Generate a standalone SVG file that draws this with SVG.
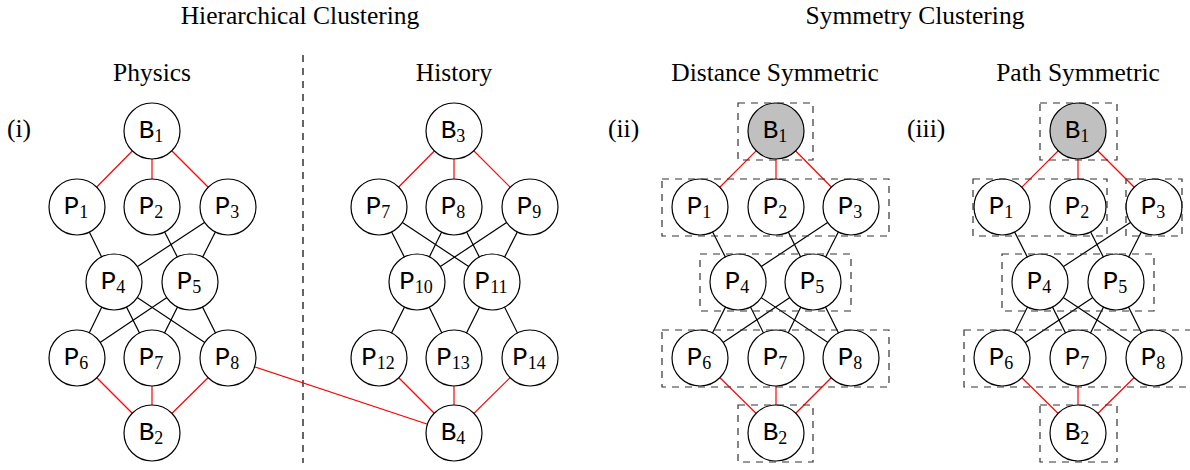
<svg xmlns="http://www.w3.org/2000/svg" width="1190" height="470" viewBox="0 0 1190 470">
  <style>
    .title { font-family: "Liberation Serif", "Times New Roman", serif; font-size: 25.5px; fill: #000; }
    .tag { font-family: "Liberation Serif", "Times New Roman", serif; font-size: 25.5px; fill: #000; }
    .node circle { fill: #fff; stroke: #000; stroke-width: 1.2; }
    .node.src circle { fill: #c0c0c0; }
    .lbl { font-family: "Liberation Mono", "Courier New", monospace; font-size: 26px; fill: #000; text-anchor: middle; }
    .sub { font-family: "Liberation Serif", "Times New Roman", serif; font-size: 18px; }
    .e { stroke: #000; stroke-width: 1.2; }
    .r { stroke: #ff0000; stroke-width: 1.2; }
    .sep { stroke: #000; stroke-width: 1.2; stroke-dasharray: 7 6; }
    .box { fill: none; stroke: #333; stroke-width: 1.2; stroke-dasharray: 7 6; }
  </style>

  <!-- headings -->
  <g id="headings">
    <text class="title" x="300" y="24" text-anchor="middle">Hierarchical Clustering</text>
    <text class="title" x="915" y="24" text-anchor="middle">Symmetry Clustering</text>
    <text class="title" x="152" y="81" text-anchor="middle">Physics</text>
    <text class="title" x="454" y="81" text-anchor="middle">History</text>
    <text class="title" x="775" y="81" text-anchor="middle">Distance Symmetric</text>
    <text class="title" x="1078" y="81" text-anchor="middle">Path Symmetric</text>
    <text class="tag" x="7" y="137">(i)</text>
    <text class="tag" x="608" y="137">(ii)</text>
    <text class="tag" x="907" y="137">(iii)</text>
  </g>

  <!-- divider between the two hierarchical clusters -->
  <line class="sep" x1="303" y1="55" x2="303" y2="463"/>

  <!-- connectors -->
  <g id="connectors">
    <!-- (i) physics -->
    <line class="r" x1="152" y1="131" x2="77" y2="207"/>
    <line class="r" x1="152" y1="131" x2="152" y2="207"/>
    <line class="r" x1="152" y1="131" x2="228" y2="207"/>
    <line class="e" x1="77" y1="207" x2="114" y2="282"/>
    <line class="e" x1="152" y1="207" x2="190" y2="282"/>
    <line class="e" x1="228" y1="207" x2="114" y2="282"/>
    <line class="e" x1="228" y1="207" x2="190" y2="282"/>
    <line class="e" x1="114" y1="282" x2="77" y2="358"/>
    <line class="e" x1="114" y1="282" x2="152" y2="358"/>
    <line class="e" x1="114" y1="282" x2="228" y2="358"/>
    <line class="e" x1="190" y1="282" x2="77" y2="358"/>
    <line class="e" x1="190" y1="282" x2="152" y2="358"/>
    <line class="e" x1="190" y1="282" x2="228" y2="358"/>
    <line class="r" x1="77" y1="358" x2="152" y2="433"/>
    <line class="r" x1="152" y1="358" x2="152" y2="433"/>
    <line class="r" x1="228" y1="358" x2="152" y2="433"/>
    <line class="r" x1="228" y1="358" x2="454" y2="433"/>
    <!-- (i) history -->
    <line class="r" x1="454" y1="131" x2="379" y2="207"/>
    <line class="r" x1="454" y1="131" x2="454" y2="207"/>
    <line class="r" x1="454" y1="131" x2="530" y2="207"/>
    <line class="e" x1="379" y1="207" x2="417" y2="282"/>
    <line class="e" x1="379" y1="207" x2="492" y2="282"/>
    <line class="e" x1="454" y1="207" x2="417" y2="282"/>
    <line class="e" x1="454" y1="207" x2="492" y2="282"/>
    <line class="e" x1="530" y1="207" x2="417" y2="282"/>
    <line class="e" x1="530" y1="207" x2="492" y2="282"/>
    <line class="e" x1="417" y1="282" x2="379" y2="358"/>
    <line class="e" x1="417" y1="282" x2="454" y2="358"/>
    <line class="e" x1="492" y1="282" x2="454" y2="358"/>
    <line class="e" x1="492" y1="282" x2="530" y2="358"/>
    <line class="r" x1="379" y1="358" x2="454" y2="433"/>
    <line class="r" x1="454" y1="358" x2="454" y2="433"/>
    <line class="r" x1="530" y1="358" x2="454" y2="433"/>
    <!-- (ii) distance symmetric -->
    <line class="r" x1="776" y1="131" x2="700" y2="207"/>
    <line class="r" x1="776" y1="131" x2="776" y2="207"/>
    <line class="r" x1="776" y1="131" x2="851" y2="207"/>
    <line class="e" x1="700" y1="207" x2="738" y2="282"/>
    <line class="e" x1="776" y1="207" x2="813" y2="282"/>
    <line class="e" x1="851" y1="207" x2="738" y2="282"/>
    <line class="e" x1="851" y1="207" x2="813" y2="282"/>
    <line class="e" x1="738" y1="282" x2="700" y2="358"/>
    <line class="e" x1="738" y1="282" x2="776" y2="358"/>
    <line class="e" x1="738" y1="282" x2="851" y2="358"/>
    <line class="e" x1="813" y1="282" x2="700" y2="358"/>
    <line class="e" x1="813" y1="282" x2="776" y2="358"/>
    <line class="e" x1="813" y1="282" x2="851" y2="358"/>
    <line class="r" x1="700" y1="358" x2="776" y2="433"/>
    <line class="r" x1="776" y1="358" x2="776" y2="433"/>
    <line class="r" x1="851" y1="358" x2="776" y2="433"/>
    <!-- (iii) path symmetric -->
    <line class="r" x1="1078" y1="131" x2="1002" y2="207"/>
    <line class="r" x1="1078" y1="131" x2="1078" y2="207"/>
    <line class="r" x1="1078" y1="131" x2="1154" y2="207"/>
    <line class="e" x1="1002" y1="207" x2="1040" y2="282"/>
    <line class="e" x1="1078" y1="207" x2="1116" y2="282"/>
    <line class="e" x1="1154" y1="207" x2="1040" y2="282"/>
    <line class="e" x1="1154" y1="207" x2="1116" y2="282"/>
    <line class="e" x1="1040" y1="282" x2="1002" y2="358"/>
    <line class="e" x1="1040" y1="282" x2="1078" y2="358"/>
    <line class="e" x1="1040" y1="282" x2="1154" y2="358"/>
    <line class="e" x1="1116" y1="282" x2="1002" y2="358"/>
    <line class="e" x1="1116" y1="282" x2="1078" y2="358"/>
    <line class="e" x1="1116" y1="282" x2="1154" y2="358"/>
    <line class="r" x1="1002" y1="358" x2="1078" y2="433"/>
    <line class="r" x1="1078" y1="358" x2="1078" y2="433"/>
    <line class="r" x1="1154" y1="358" x2="1078" y2="433"/>
  </g>

  <!-- (i) physics nodes -->
  <g id="phys-B1" class="node"><circle cx="152" cy="131" r="28"/><text class="lbl" x="151" y="138">B<tspan class="sub" dy="4">1</tspan></text></g>
  <g id="phys-P1" class="node"><circle cx="77" cy="207" r="28"/><text class="lbl" x="76" y="214">P<tspan class="sub" dy="4">1</tspan></text></g>
  <g id="phys-P2" class="node"><circle cx="152" cy="207" r="28"/><text class="lbl" x="151" y="214">P<tspan class="sub" dy="4">2</tspan></text></g>
  <g id="phys-P3" class="node"><circle cx="228" cy="207" r="28"/><text class="lbl" x="227" y="214">P<tspan class="sub" dy="4">3</tspan></text></g>
  <g id="phys-P4" class="node"><circle cx="114" cy="282" r="28"/><text class="lbl" x="113" y="289">P<tspan class="sub" dy="4">4</tspan></text></g>
  <g id="phys-P5" class="node"><circle cx="190" cy="282" r="28"/><text class="lbl" x="189" y="289">P<tspan class="sub" dy="4">5</tspan></text></g>
  <g id="phys-P6" class="node"><circle cx="77" cy="358" r="28"/><text class="lbl" x="76" y="365">P<tspan class="sub" dy="4">6</tspan></text></g>
  <g id="phys-P7" class="node"><circle cx="152" cy="358" r="28"/><text class="lbl" x="151" y="365">P<tspan class="sub" dy="4">7</tspan></text></g>
  <g id="phys-P8" class="node"><circle cx="228" cy="358" r="28"/><text class="lbl" x="227" y="365">P<tspan class="sub" dy="4">8</tspan></text></g>
  <g id="phys-B2" class="node"><circle cx="152" cy="433" r="28"/><text class="lbl" x="151" y="440">B<tspan class="sub" dy="4">2</tspan></text></g>

  <!-- (i) history nodes -->
  <g id="hist-B3" class="node"><circle cx="454" cy="131" r="28"/><text class="lbl" x="453" y="138">B<tspan class="sub" dy="4">3</tspan></text></g>
  <g id="hist-P7" class="node"><circle cx="379" cy="207" r="28"/><text class="lbl" x="378" y="214">P<tspan class="sub" dy="4">7</tspan></text></g>
  <g id="hist-P8" class="node"><circle cx="454" cy="207" r="28"/><text class="lbl" x="453" y="214">P<tspan class="sub" dy="4">8</tspan></text></g>
  <g id="hist-P9" class="node"><circle cx="530" cy="207" r="28"/><text class="lbl" x="529" y="214">P<tspan class="sub" dy="4">9</tspan></text></g>
  <g id="hist-P10" class="node"><circle cx="417" cy="282" r="28"/><text class="lbl" x="416" y="289">P<tspan class="sub" dy="4">10</tspan></text></g>
  <g id="hist-P11" class="node"><circle cx="492" cy="282" r="28"/><text class="lbl" x="491" y="289">P<tspan class="sub" dy="4">11</tspan></text></g>
  <g id="hist-P12" class="node"><circle cx="379" cy="358" r="28"/><text class="lbl" x="378" y="365">P<tspan class="sub" dy="4">12</tspan></text></g>
  <g id="hist-P13" class="node"><circle cx="454" cy="358" r="28"/><text class="lbl" x="453" y="365">P<tspan class="sub" dy="4">13</tspan></text></g>
  <g id="hist-P14" class="node"><circle cx="530" cy="358" r="28"/><text class="lbl" x="529" y="365">P<tspan class="sub" dy="4">14</tspan></text></g>
  <g id="hist-B4" class="node"><circle cx="454" cy="433" r="28"/><text class="lbl" x="453" y="440">B<tspan class="sub" dy="4">4</tspan></text></g>

  <!-- (ii) distance symmetric nodes -->
  <g id="dist-B1" class="node src"><circle cx="776" cy="131" r="28"/><text class="lbl" x="775" y="138">B<tspan class="sub" dy="4">1</tspan></text></g>
  <g id="dist-P1" class="node"><circle cx="700" cy="207" r="28"/><text class="lbl" x="699" y="214">P<tspan class="sub" dy="4">1</tspan></text></g>
  <g id="dist-P2" class="node"><circle cx="776" cy="207" r="28"/><text class="lbl" x="775" y="214">P<tspan class="sub" dy="4">2</tspan></text></g>
  <g id="dist-P3" class="node"><circle cx="851" cy="207" r="28"/><text class="lbl" x="850" y="214">P<tspan class="sub" dy="4">3</tspan></text></g>
  <g id="dist-P4" class="node"><circle cx="738" cy="282" r="28"/><text class="lbl" x="737" y="289">P<tspan class="sub" dy="4">4</tspan></text></g>
  <g id="dist-P5" class="node"><circle cx="813" cy="282" r="28"/><text class="lbl" x="812" y="289">P<tspan class="sub" dy="4">5</tspan></text></g>
  <g id="dist-P6" class="node"><circle cx="700" cy="358" r="28"/><text class="lbl" x="699" y="365">P<tspan class="sub" dy="4">6</tspan></text></g>
  <g id="dist-P7" class="node"><circle cx="776" cy="358" r="28"/><text class="lbl" x="775" y="365">P<tspan class="sub" dy="4">7</tspan></text></g>
  <g id="dist-P8" class="node"><circle cx="851" cy="358" r="28"/><text class="lbl" x="850" y="365">P<tspan class="sub" dy="4">8</tspan></text></g>
  <g id="dist-B2" class="node"><circle cx="776" cy="433" r="28"/><text class="lbl" x="775" y="440">B<tspan class="sub" dy="4">2</tspan></text></g>

  <!-- (ii) distance classes -->
  <g id="dist-classes">
    <rect class="box" x="738" y="103" width="75" height="57"/>
    <rect class="box" x="662" y="179" width="227" height="57"/>
    <rect class="box" x="700" y="254" width="151" height="57"/>
    <rect class="box" x="662" y="330" width="227" height="57"/>
    <rect class="box" x="738" y="405" width="75" height="57"/>
  </g>

  <!-- (iii) path symmetric nodes -->
  <g id="path-B1" class="node src"><circle cx="1078" cy="131" r="28"/><text class="lbl" x="1077" y="138">B<tspan class="sub" dy="4">1</tspan></text></g>
  <g id="path-P1" class="node"><circle cx="1002" cy="207" r="28"/><text class="lbl" x="1001" y="214">P<tspan class="sub" dy="4">1</tspan></text></g>
  <g id="path-P2" class="node"><circle cx="1078" cy="207" r="28"/><text class="lbl" x="1077" y="214">P<tspan class="sub" dy="4">2</tspan></text></g>
  <g id="path-P3" class="node"><circle cx="1154" cy="207" r="28"/><text class="lbl" x="1153" y="214">P<tspan class="sub" dy="4">3</tspan></text></g>
  <g id="path-P4" class="node"><circle cx="1040" cy="282" r="28"/><text class="lbl" x="1039" y="289">P<tspan class="sub" dy="4">4</tspan></text></g>
  <g id="path-P5" class="node"><circle cx="1116" cy="282" r="28"/><text class="lbl" x="1115" y="289">P<tspan class="sub" dy="4">5</tspan></text></g>
  <g id="path-P6" class="node"><circle cx="1002" cy="358" r="28"/><text class="lbl" x="1001" y="365">P<tspan class="sub" dy="4">6</tspan></text></g>
  <g id="path-P7" class="node"><circle cx="1078" cy="358" r="28"/><text class="lbl" x="1077" y="365">P<tspan class="sub" dy="4">7</tspan></text></g>
  <g id="path-P8" class="node"><circle cx="1154" cy="358" r="28"/><text class="lbl" x="1153" y="365">P<tspan class="sub" dy="4">8</tspan></text></g>
  <g id="path-B2" class="node"><circle cx="1078" cy="433" r="28"/><text class="lbl" x="1077" y="440">B<tspan class="sub" dy="4">2</tspan></text></g>

  <!-- (iii) path classes -->
  <g id="path-classes">
    <rect class="box" x="1040" y="103" width="77" height="57"/>
    <rect class="box" x="973" y="179" width="134" height="57"/>
    <rect class="box" x="1126" y="179" width="56" height="57"/>
    <rect class="box" x="1002" y="254" width="152" height="57"/>
    <rect class="box" x="964" y="330" width="232" height="57"/>
    <rect class="box" x="1040" y="405" width="77" height="57"/>
  </g>
</svg>
